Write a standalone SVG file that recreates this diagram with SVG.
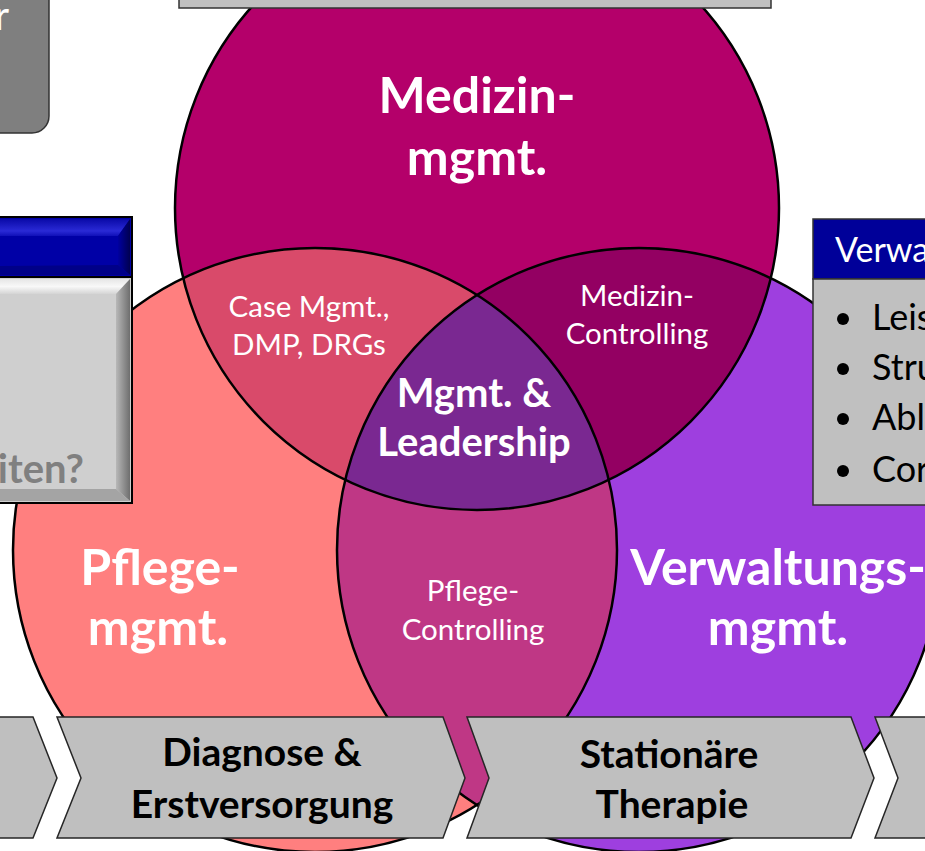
<svg xmlns="http://www.w3.org/2000/svg" width="925" height="851" viewBox="0 0 925 851">
  <style>
    .ring { fill: none; stroke: #000; stroke-width: 2.5; }
    .big { font-family: Lato, "Liberation Sans", sans-serif; font-weight: bold; fill: #fff; text-anchor: middle; font-size: 50px; }
    .mid { font-family: Lato, "Liberation Sans", sans-serif; font-weight: bold; fill: #fff; text-anchor: middle; font-size: 40px; }
    .small { font-family: Lato, "Liberation Sans", sans-serif; fill: #fff; text-anchor: middle; font-size: 29.5px; }
    .step { fill: #bfbfbf; stroke: #262626; stroke-width: 1.5; }
    .steptxt { font-family: Lato, "Liberation Sans", sans-serif; font-weight: bold; fill: #000; text-anchor: middle; font-size: 39px; }
    .bullet { font-family: Lato, "Liberation Sans", sans-serif; fill: #000; font-size: 36px; }
  </style>
  <defs>
    <clipPath id="clipT"><circle cx="477" cy="208" r="302"/></clipPath>
    <clipPath id="clipL"><circle cx="315" cy="550" r="302"/></clipPath>
    <linearGradient id="bevelR" x1="0" y1="0" x2="1" y2="0">
      <stop offset="0" stop-color="#b8b8b8"/>
      <stop offset="1" stop-color="#6e6e6e"/>
    </linearGradient>
    <linearGradient id="bevelTop" x1="0" y1="0" x2="0" y2="1">
      <stop offset="0" stop-color="#e6e6e6"/>
      <stop offset="0.5" stop-color="#f8f8f8"/>
      <stop offset="1" stop-color="#d4d4d4"/>
    </linearGradient>
    <linearGradient id="blueTop" x1="0" y1="0" x2="0" y2="1">
      <stop offset="0" stop-color="#0a0aa8"/>
      <stop offset="0.7" stop-color="#2a2ad6"/>
      <stop offset="1" stop-color="#1010b8"/>
    </linearGradient>
    <linearGradient id="blueR" x1="0" y1="0" x2="1" y2="0">
      <stop offset="0" stop-color="#0000a0"/>
      <stop offset="1" stop-color="#000050"/>
    </linearGradient>
  </defs>

  <!-- three overlapping management circles -->
  <g id="venn">
    <circle cx="477" cy="208" r="302" fill="#b4006a"/>
    <circle cx="315" cy="550" r="302" fill="#ff7f7f"/>
    <circle cx="639" cy="550" r="302" fill="#9e3fdf"/>
    <!-- pairwise overlaps -->
    <circle cx="315" cy="550" r="302" fill="#d94a6a" clip-path="url(#clipT)"/>
    <circle cx="639" cy="550" r="302" fill="#930062" clip-path="url(#clipT)"/>
    <circle cx="639" cy="550" r="302" fill="#bf3785" clip-path="url(#clipL)"/>
    <!-- centre overlap -->
    <g clip-path="url(#clipT)">
      <circle cx="639" cy="550" r="302" fill="#7a2891" clip-path="url(#clipL)"/>
    </g>
    <circle class="ring" cx="477" cy="208" r="302"/>
    <circle class="ring" cx="315" cy="550" r="302"/>
    <circle class="ring" cx="639" cy="550" r="302"/>
  </g>

  <g id="labels">
    <text class="big" x="477" y="113">Medizin-</text>
    <text class="big" x="477" y="175">mgmt.</text>
    <text class="big" x="160" y="585">Pflege-</text>
    <text class="big" x="158" y="645">mgmt.</text>
    <text class="big" x="778" y="585">Verwaltungs-</text>
    <text class="big" x="778" y="645">mgmt.</text>
    <text class="mid" x="474" y="407">Mgmt. &amp;</text>
    <text class="mid" x="474" y="456">Leadership</text>
    <text class="small" x="309" y="317">Case Mgmt.,</text>
    <text class="small" x="309" y="355">DMP, DRGs</text>
    <text class="small" x="637" y="306">Medizin-</text>
    <text class="small" x="637" y="344">Controlling</text>
    <text class="small" x="473" y="601">Pflege-</text>
    <text class="small" x="473" y="640">Controlling</text>
  </g>

  <!-- header bar at the top edge -->
  <g id="topbar">
    <rect x="179" y="-5" width="592" height="13" fill="#c0c0c0" stroke="#333" stroke-width="1.5"/>
  </g>

  <!-- grey rounded box, top left -->
  <g id="note-box">
    <rect x="-20" y="-20" width="69" height="153" rx="17" fill="#7f7f7f" stroke="#333" stroke-width="1.5"/>
    <text x="9" y="30" font-family="Lato, 'Liberation Sans', sans-serif" font-size="40" fill="#fff" text-anchor="end">r</text>
  </g>

  <!-- bevelled question panel, left -->
  <g id="question-panel">
    <rect x="-10" y="217" width="142" height="60" fill="#0000a6" stroke="#000" stroke-width="2"/>
    <polygon points="-10,219 130,219 118,236 -10,236" fill="url(#blueTop)"/>
    <polygon points="130,219 130,275 118,265 118,236" fill="url(#blueR)"/>
    <polygon points="-10,266 118,265 130,275 -10,275" fill="#000088"/>
    <rect x="-10" y="277" width="142" height="226" fill="#cfcfcf" stroke="#000" stroke-width="2"/>
    <polygon points="-10,279 130,279 116,294 -10,294" fill="url(#bevelTop)"/>
    <polygon points="130,279 130,501 116,489 116,294" fill="url(#bevelR)"/>
    <polygon points="-10,489 116,489 130,501 -10,501" fill="#a4a4a4"/>
    <text x="84" y="483" font-family="Lato, 'Liberation Sans', sans-serif" font-weight="bold" font-size="40" fill="#808080" text-anchor="end">iten?</text>
  </g>

  <!-- list panel, right -->
  <g id="list-panel">
    <rect x="813" y="219" width="130" height="60" fill="#000099" stroke="#333" stroke-width="1.5"/>
    <rect x="813" y="279" width="130" height="226" fill="#c0c0c0" stroke="#333" stroke-width="1.5"/>
    <text x="835" y="262" font-family="Lato, 'Liberation Sans', sans-serif" font-size="34" fill="#fff">Verwa</text>
    <circle cx="843" cy="319" r="6"/>
    <circle cx="843" cy="369" r="6"/>
    <circle cx="843" cy="419" r="6"/>
    <circle cx="843" cy="471" r="6"/>
    <text class="bullet" x="872" y="330">Leis</text>
    <text class="bullet" x="872" y="380">Stru</text>
    <text class="bullet" x="872" y="430">Abl</text>
    <text class="bullet" x="872" y="482">Cor</text>
  </g>

  <!-- process chevrons along the bottom -->
  <g id="step-1">
    <polygon class="step" points="-10,717 33,717 57,778 33,838 -10,838"/>
  </g>
  <g id="step-2">
    <polygon class="step" points="57,717 443,717 465,778 443,838 57,838 81,778"/>
    <text class="steptxt" x="262" y="766">Diagnose &amp;</text>
    <text class="steptxt" x="262" y="818">Erstversorgung</text>
  </g>
  <g id="step-3">
    <polygon class="step" points="467,717 851,717 874,778 851,838 467,838 489,778"/>
    <text class="steptxt" x="669" y="768">Stationäre</text>
    <text class="steptxt" x="672" y="818">Therapie</text>
  </g>
  <g id="step-4">
    <polygon class="step" points="875,717 940,717 940,838 875,838 898,778"/>
  </g>
</svg>
